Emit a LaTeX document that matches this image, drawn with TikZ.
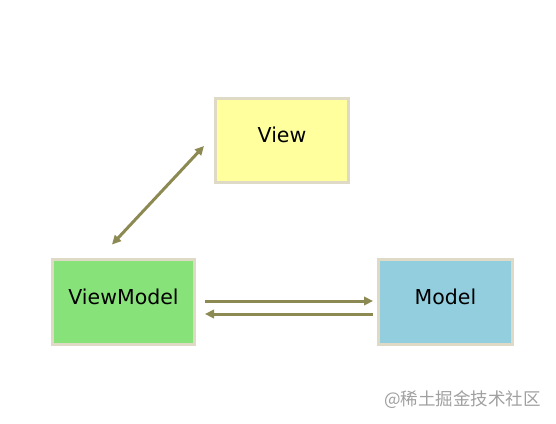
\documentclass[tikz,border=0pt]{standalone}
\usepackage{fontspec}
\setmainfont{DejaVu Sans}
\newfontfamily\cjkfont{Noto Sans CJK SC}
\usetikzlibrary{arrows.meta,calc}
\definecolor{cframe}{HTML}{DEDAC5}
\definecolor{cview}{HTML}{FFFF9E}
\definecolor{cvm}{HTML}{88E27A}
\definecolor{cmodel}{HTML}{92CEDD}
\definecolor{carrow}{HTML}{8C8A52}
\definecolor{cmark}{HTML}{A0A0A0}

\begin{document}
\begin{tikzpicture}[
    x=1pt, y=-1pt,
    >={Triangle[length=9pt, width=8.5pt]},
    box/.style={draw=cframe, line width=3pt, inner sep=0pt, align=center,
                text depth=11pt,
                font=\fontsize{20.5}{24}\selectfont, text=black},
    link/.style={line width=3pt, draw=carrow, color=carrow},
  ]
  % keep the canvas the size of the reference
  \path[use as bounding box] (0,0) rectangle (556,423);
  % == the three parts
  \node[box, fill=cview, minimum width=133pt, minimum height=84pt] (view) at (282,140.5) {View};
  \node[box, fill=cvm, minimum width=142pt, minimum height=85pt] (vm) at (123.5,302) {ViewModel};
  \node[box, fill=cmodel, minimum width=134pt, minimum height=85pt] (model) at (445.5,302) {Model};
  % == view <-> viewmodel
  \draw[link, <->] ($(vm.north)+(-11.5,-13.5)$) -- ($(view.west)+(-10,5.5)$);
  % == viewmodel <-> model, one each way
  \draw[link, ->] ($(vm.east)+(9,-1)$) -- ($(model.west)+(-4,-1)$);
  \draw[link, ->] ($(model.west)+(-4,12)$) -- ($(vm.east)+(9,12)$);
  % watermark
  \node[anchor=east, text=cmark, font=\cjkfont\fontsize{17.5}{20}\selectfont, inner sep=0pt] (mark) at (541,400) {@稀土掘金技术社区};
\end{tikzpicture}
\end{document}
